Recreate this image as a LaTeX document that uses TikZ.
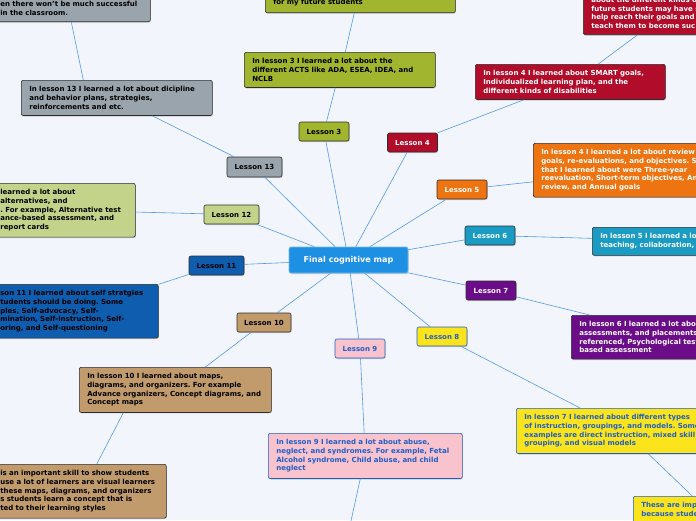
\documentclass[tikz,border=0pt]{standalone}
\usepackage{fontspec}
\setmainfont{DejaVu Sans}
\usetikzlibrary{shadows}
\frenchspacing
\definecolor{bgcolor}{RGB}{243,245,252}
\definecolor{wire}{RGB}{80,155,235}
\definecolor{rootblue}{RGB}{30,144,228}
\definecolor{moss}{RGB}{161,181,46}
\definecolor{crimson}{RGB}{177,12,42}
\definecolor{tangerine}{RGB}{238,116,17}
\definecolor{lagoon}{RGB}{26,155,195}
\definecolor{plum}{RGB}{107,12,136}
\definecolor{lemon}{RGB}{252,228,28}
\definecolor{inkblue}{RGB}{30,94,200}
\definecolor{blush}{RGB}{249,195,205}
\definecolor{sand}{RGB}{193,155,108}
\definecolor{navy}{RGB}{14,93,175}
\definecolor{sage}{RGB}{195,212,138}
\definecolor{slate}{RGB}{154,164,172}
\definecolor{rim}{RGB}{45,45,45}
\tikzstyle{box} = [draw=rim, rounded corners=2pt, line width=0.6pt, font=\fontsize{7}{8.6}\selectfont\bfseries, drop shadow={shadow xshift=0.6pt, shadow yshift=-1pt, opacity=0.35}]
\tikzstyle{lesson} = [box, minimum width=50pt, minimum height=19pt, inner sep=2pt]
\tikzstyle{note} = [box, align=left, inner xsep=8pt, inner ysep=6.3pt]
\tikzstyle{branch} = [draw=wire, line width=0.6pt]

\begin{document}
\begin{tikzpicture}[x=1pt, y=-1pt]
		\useasboundingbox (0,0) rectangle (696,520);
		\clip (0,0) rectangle (696,520);
		\fill[bgcolor] (0,0) rectangle (696,520);

		% centre and lessons
		\node [box,fill=rootblue,draw=rootblue!60!white,text=white,minimum width=119pt,minimum height=26pt,font=\fontsize{8.1}{9}\selectfont\bfseries](root) at (348.5,260){Final cognitive map};
		\node [lesson,fill=moss](l3) at (324,131.5){Lesson 3};
		\node [lesson,fill=crimson,text=white](l4) at (412.5,142.5){Lesson 4};
		\node [lesson,fill=tangerine,text=white](l5) at (462,189.5){Lesson 5};
		\node [lesson,fill=lagoon,text=white](l6) at (490,235.5){Lesson 6};
		\node [lesson,fill=plum,text=white](l7) at (491,290.5){Lesson 7};
		\node [lesson,fill=lemon,text=inkblue,draw=inkblue](l8) at (442,336.5){Lesson 8};
		\node [lesson,fill=blush,text=inkblue,draw=inkblue](l9) at (360,348.5){Lesson 9};
		\node [lesson,fill=sand,minimum width=54pt](l10) at (264,322.5){Lesson 10};
		\node [lesson,fill=navy,minimum width=55pt](l11) at (216.5,265.5){Lesson 11};
		\node [lesson,fill=sage,minimum width=55pt](l12) at (231.5,214.5){Lesson 12};
		\node [lesson,fill=slate,minimum width=55pt,minimum height=20pt](l13) at (254.5,167){Lesson 13};

		% notes
		\node [note,fill=moss,text width=175pt,anchor=north west](n3) at (244,52){In lesson 3 I learned a lot about the\\different ACTS like ADA, ESEA, IDEA, and\\NCLB};
		\node [note,fill=moss,text width=174pt,anchor=south west](n3top) at (265,13){~\\~\\for my future students};
		\node [note,fill=crimson,text=white,text width=174pt,anchor=north west](n4) at (475,64){In lesson 4 I learned about SMART goals,\\Individualized learning plan, and the\\different kinds of disabilities};
		\node [note,fill=crimson,text=white,text width=200pt,anchor=south west](n4top) at (583,35){~\\about the different kinds o\\future students may have s\\help reach their goals and\\teach them to become suc};
		\node [note,fill=tangerine,text=white,text width=200pt,anchor=north west](n5) at (533,143){In lesson 4 I learned a lot about review\\goals, re-evaluations, and objectives. S\\that I learned about were Three-year\\reevaluation, Short-term objectives, An\\review, and Annual goals};
		\node [note,fill=lagoon,text=white,text width=200pt,anchor=north west](n6) at (592,227){In lesson 5 I learned a lo\\teaching, collaboration, a};
		\node [note,fill=plum,text=white,text width=200pt,anchor=north west](n7) at (571,315){In lesson 6 I learned a lot abo\\assessments, and placements\\referenced, Psychological test\\based assessment};
		\node [note,fill=lemon,text=inkblue,draw=inkblue,text width=200pt,anchor=north west](n8) at (516,408){In lesson 7 I learned about different types\\of instruction, groupings, and models. Some\\examples are direct instruction, mixed skill\\grouping, and visual models};
		\node [note,fill=lemon,text=inkblue,draw=inkblue,text width=100pt,anchor=north west](n8b) at (633,496){These are imp\\because stude\\~\\~};
		\node [note,fill=blush,text=inkblue,draw=inkblue,text width=178pt,anchor=north west](n9) at (268,433){In lesson 9 I learned a lot about abuse,\\neglect, and syndromes. For example, Fetal\\Alcohol syndrome, Child abuse, and child\\neglect};
		\node [note,fill=sand,text width=176pt,anchor=north west](n10) at (79,367){In lesson 10 I learned about maps,\\diagrams, and organizers. For example\\Advance organizers, Concept diagrams, and\\Concept maps};
		\node [note,fill=sand,text width=158pt,anchor=north west](n10b) at (-8,464){is an important skill to show students\\use a lot of learners are visual learners\\these maps, diagrams, and organizers\\s students learn a concept that is\\ted to their learning styles};
		\node [note,fill=navy,text width=150pt,anchor=north west](n11) at (-8,284){son 11 I learned about self stratgies\\tudents should be doing. Some\\ples, Self-advocacy, Self-\\mination, Self-instruction, Self-\\oring, and Self-questioning};
		\node [note,fill=sage,text width=127pt,anchor=north west](n12) at (-8,183){learned a lot about\\alternatives, and\\. For example, Alternative test\\ance-based assessment, and\\report cards};
		\node [note,fill=slate,text width=175pt,anchor=north west](n13) at (21,80){In lesson 13 I learned a lot about dicipline\\and behavior plans, strategies,\\reinforcements and etc.};
		\node [note,fill=slate,text width=142pt,anchor=south west](n13top) at (-8,22){~\\en there won't be much successful\\in the classroom.};
		\coordinate (n9end) at (349,530);

		% branches
		\foreach \l in {l3,l4,l5,l6,l7,l8,l9,l10,l11,l12,l13}
			\draw[branch](root)--(\l);
		\draw[branch](l3)--(n3);
		\draw[branch]([xshift=5.5pt]n3.north)--([xshift=-6pt]n3top.south);
		\draw[branch](l4)--(n4);
		\draw[branch]([xshift=28pt]n4.north)--([xshift=-54pt]n4top.south);
		\draw[branch](l5)--(n5);
		\draw[branch](l6)--(n6);
		\draw[branch](l7)--(n7);
		\draw[branch](l8)--(n8);
		\draw[branch]([xshift=24pt]n8.south)--([xshift=1pt]n8b.north);
		\draw[branch](l9)--(n9);
		\draw[branch](n9)--(n9end);
		\draw[branch](l10)--(n10);
		\draw[branch]([xshift=-52pt]n10.south)--([xshift=17.5pt]n10b.north);
		\draw[branch](l11)--(n11);
		\draw[branch](l12)--(n12);
		\draw[branch](l13)--(n13);
		\draw[branch]([xshift=-33.5pt]n13.north)--(n13top.south);
\end{tikzpicture}
\end{document}
